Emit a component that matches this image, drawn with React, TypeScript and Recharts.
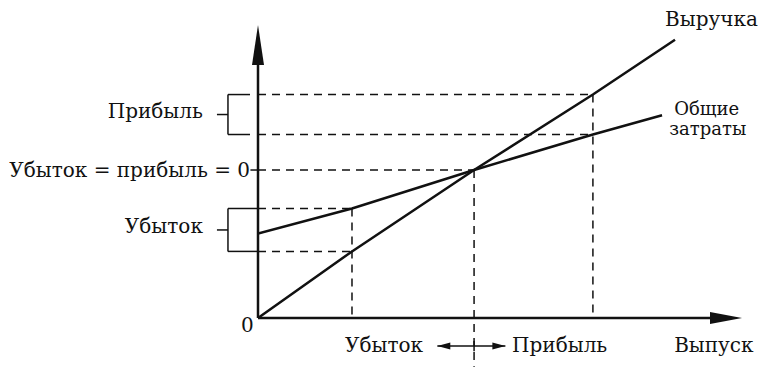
import React from "react";
import { LineChart, Line, XAxis, YAxis, ReferenceLine, ReferenceDot } from "recharts";

// break-even chart: output on x, money on y (units)
const revenue = [
  { x: 0, y: 0 },
  { x: 4.35, y: 4.5 },
  { x: 10, y: 10 },
  { x: 15.5, y: 15.1 },
  { x: 19.3, y: 18.8 },
];
const totalCosts = [
  { x: 0, y: 5.7 },
  { x: 4.35, y: 7.4 },
  { x: 10, y: 10 },
  { x: 15.5, y: 12.4 },
  { x: 18.7, y: 13.7 },
];

const lossX = 4.35;
const breakEvenX = 10;
const profitX = 15.5;
const profitLevels = [15.1, 12.4];
const breakEvenLevel = 10;
const lossLevels = [7.4, 4.5];

const X_MAX = 22.4;
const Y_MAX = 19.8;
const BELOW = -3.3;
const ARROW_Y = -1.9;
const ARROW_L = 8.3;
const ARROW_R = 11.45;

const sideLabels = [
  { text: "Выручка", x: 18.84, y: 19.73, anchor: "start", size: 20 },
  { text: "Общие", x: 19.26, y: 13.75, anchor: "start", size: 18 },
  { text: "затраты", x: 19.03, y: 12.35, anchor: "start", size: 18 },
  { text: "Прибыль", x: -2.55, y: 13.5, anchor: "end", size: 20 },
  { text: "Убыток = прибыль = 0", x: -0.37, y: 9.53, anchor: "end", size: 20 },
  { text: "Убыток", x: -2.55, y: 5.74, anchor: "end", size: 20 },
  { text: "0", x: -0.2, y: -0.95, anchor: "end", size: 20 },
  { text: "Убыток", x: 4.03, y: -2.3, anchor: "start", size: 20 },
  { text: "Прибыль", x: 11.76, y: -2.3, anchor: "start", size: 20 },
  { text: "Выпуск", x: 19.26, y: -2.3, anchor: "start", size: 20 },
];

const FONT = "'DejaVu Serif', 'Liberation Serif', serif";
const INK = "#111";
const dash = "8 6";

export default function App() {
  const brX0 = -1.39;
  const brX1 = -0.37;
  const brTick = -1.9;
  const brackets = [profitLevels, lossLevels];

  return (
    <div style={{ position: "absolute", left: 0, top: 0, width: 765, height: 368, background: "#fff" }}>
      <LineChart width={765} height={368} margin={{ top: 25, right: 23, bottom: 50, left: 258 }}>
        <XAxis type="number" dataKey="x" domain={[0, X_MAX]} hide allowDataOverflow />
        <YAxis type="number" dataKey="y" domain={[0, Y_MAX]} hide allowDataOverflow />

        {/* dashed guides */}
        {profitLevels.map((v) => (
          <ReferenceLine key={"hp" + v} segment={[{ x: 0, y: v }, { x: profitX, y: v }]} stroke={INK} strokeWidth={1.5} strokeDasharray={dash} ifOverflow="visible" />
        ))}
        <ReferenceLine segment={[{ x: 0, y: breakEvenLevel }, { x: breakEvenX, y: breakEvenLevel }]} stroke={INK} strokeWidth={1.5} strokeDasharray={dash} ifOverflow="visible" />
        {lossLevels.map((v) => (
          <ReferenceLine key={"hl" + v} segment={[{ x: 0, y: v }, { x: lossX, y: v }]} stroke={INK} strokeWidth={1.5} strokeDasharray={dash} ifOverflow="visible" />
        ))}
        <ReferenceLine segment={[{ x: lossX, y: lossLevels[0] }, { x: lossX, y: 0 }]} stroke={INK} strokeWidth={1.5} strokeDasharray={dash} ifOverflow="visible" />
        <ReferenceLine segment={[{ x: breakEvenX, y: breakEvenLevel }, { x: breakEvenX, y: BELOW }]} stroke={INK} strokeWidth={1.5} strokeDasharray={dash} ifOverflow="visible" />
        <ReferenceLine segment={[{ x: profitX, y: profitLevels[0] }, { x: profitX, y: 0 }]} stroke={INK} strokeWidth={1.5} strokeDasharray={dash} ifOverflow="visible" />

        {/* brackets on the left of the money axis */}
        {brackets.map(([hi, lo], i) => (
          <React.Fragment key={"br" + i}>
            <ReferenceLine segment={[{ x: brX0, y: hi }, { x: i === 0 ? brX1 : 0, y: hi }]} stroke={INK} strokeWidth={1.5} ifOverflow="visible" />
            <ReferenceLine segment={[{ x: brX0, y: lo }, { x: i === 0 ? brX1 : 0, y: lo }]} stroke={INK} strokeWidth={1.5} ifOverflow="visible" />
            <ReferenceLine segment={[{ x: brX0, y: hi }, { x: brX0, y: lo }]} stroke={INK} strokeWidth={1.5} ifOverflow="visible" />
            <ReferenceLine segment={[{ x: brTick, y: (hi + lo) / 2 }, { x: brX0, y: (hi + lo) / 2 }]} stroke={INK} strokeWidth={1.5} ifOverflow="visible" />
          </React.Fragment>
        ))}
        <ReferenceLine segment={[{ x: -0.35, y: breakEvenLevel }, { x: 0, y: breakEvenLevel }]} stroke={INK} strokeWidth={1.5} ifOverflow="visible" />

        {/* axes with arrows */}
        <ReferenceLine segment={[{ x: 0, y: 0 }, { x: 0, y: Y_MAX - 1 }]} stroke={INK} strokeWidth={2.5} ifOverflow="visible" />
        <ReferenceLine segment={[{ x: 0, y: 0 }, { x: X_MAX - 1, y: 0 }]} stroke={INK} strokeWidth={2.5} ifOverflow="visible" />
        <ReferenceDot
          x={0}
          y={Y_MAX}
          ifOverflow="visible"
          shape={(p: any) => <polygon points={`${p.cx},${p.cy} ${p.cx - 6},${p.cy + 40} ${p.cx + 6},${p.cy + 40}`} fill={INK} />}
        />
        <ReferenceDot
          x={X_MAX}
          y={0}
          ifOverflow="visible"
          shape={(p: any) => <polygon points={`${p.cx},${p.cy} ${p.cx - 32},${p.cy - 6} ${p.cx - 32},${p.cy + 6}`} fill={INK} />}
        />

        {/* loss <-> profit arrows under the axis */}
        <ReferenceLine segment={[{ x: ARROW_L, y: ARROW_Y }, { x: ARROW_R, y: ARROW_Y }]} stroke={INK} strokeWidth={1.5} ifOverflow="visible" />
        <ReferenceDot
          x={ARROW_L}
          y={ARROW_Y}
          ifOverflow="visible"
          shape={(p: any) => <polygon points={`${p.cx},${p.cy} ${p.cx + 13},${p.cy - 3.5} ${p.cx + 13},${p.cy + 3.5}`} fill={INK} />}
        />
        <ReferenceDot
          x={ARROW_R}
          y={ARROW_Y}
          ifOverflow="visible"
          shape={(p: any) => <polygon points={`${p.cx},${p.cy} ${p.cx - 13},${p.cy - 3.5} ${p.cx - 13},${p.cy + 3.5}`} fill={INK} />}
        />
        <ReferenceLine segment={[{ x: breakEvenX, y: ARROW_Y + 0.35 }, { x: breakEvenX, y: ARROW_Y - 0.35 }]} stroke={INK} strokeWidth={1.5} ifOverflow="visible" />

        <Line data={totalCosts} dataKey="y" type="linear" stroke={INK} strokeWidth={2.5} dot={false} isAnimationActive={false} />
        <Line data={revenue} dataKey="y" type="linear" stroke={INK} strokeWidth={2.5} dot={false} isAnimationActive={false} />

        {sideLabels.map((l, i) => (
          <ReferenceDot
            key={"t" + i}
            x={l.x}
            y={l.y}
            ifOverflow="visible"
            shape={(p: any) => (
              <text x={p.cx} y={p.cy} textAnchor={l.anchor as any} fontFamily={FONT} fontSize={l.size} fill={INK}>
                {l.text}
              </text>
            )}
          />
        ))}
      </LineChart>
    </div>
  );
}
